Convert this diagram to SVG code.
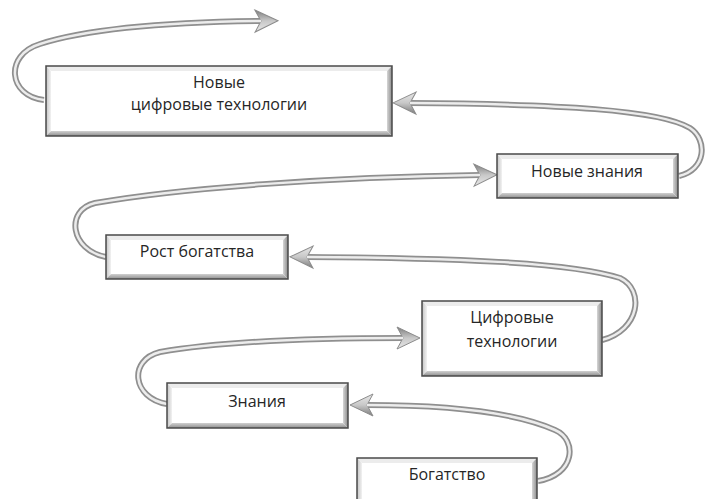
<svg xmlns="http://www.w3.org/2000/svg" width="705" height="499" viewBox="0 0 705 499">
<defs>
<linearGradient id="gl" x1="0" y1="0" x2="1" y2="0">
<stop offset="0" stop-color="#c4c4c4"/>
<stop offset="1" stop-color="#f2f2f2"/>
</linearGradient>
<linearGradient id="gr" x1="0" y1="0" x2="1" y2="0">
<stop offset="0" stop-color="#d6d6d6"/>
<stop offset="1" stop-color="#8a8a8a"/>
</linearGradient>
<linearGradient id="gb" x1="0" y1="0" x2="0" y2="1">
<stop offset="0" stop-color="#d0d0d0"/>
<stop offset="1" stop-color="#8e8e8e"/>
</linearGradient>
<linearGradient id="headg" x1="0" y1="0" x2="0" y2="1">
<stop offset="0" stop-color="#7d7d7d"/>
<stop offset="0.5" stop-color="#c8c8c8"/>
<stop offset="1" stop-color="#e8e8e8"/>
</linearGradient>
<marker id="ah" markerUnits="userSpaceOnUse" markerWidth="30" markerHeight="30" refX="0" refY="0" orient="auto" overflow="visible">
<path d="M17,0 L-6,-11 L0,0 L-6,11 Z" fill="url(#headg)" stroke="#8c8c8c" stroke-width="1" stroke-linejoin="miter"/>
</marker>
<style>
.face{fill:#ffffff}
.bt{fill:#ececec}
.bl{fill:url(#gl)}
.br{fill:url(#gr)}
.bb{fill:url(#gb)}
.edge{fill:none;stroke:#4a4a4a;stroke-width:1.5}
.lbl{font-family:"Open Sans","Noto Sans","Liberation Sans",sans-serif;font-size:16px;fill:#262626;text-anchor:middle}
.tube{fill:none;stroke:#8f8f8f;stroke-width:6;stroke-linecap:butt}
.core{fill:none;stroke:#ececec;stroke-width:2.5;stroke-linecap:butt}
</style>
</defs>
<g id="connectors">
<path class="tube" marker-end="url(#ah)" d="M44,100 C8,96 4,55 40,44 C90,28 180,22 261,21"/>
<path class="core" d="M44,100 C8,96 4,55 40,44 C90,28 180,22 261,21"/>
<path class="tube" marker-end="url(#ah)" d="M679,176 C706,170 708,140 690,128 C660,110 560,104 410,103"/>
<path class="core" d="M679,176 C706,170 708,140 690,128 C660,110 560,104 410,103"/>
<path class="tube" marker-end="url(#ah)" d="M106,257 C70,250 65,210 95,203 C180,188 330,177 480,175"/>
<path class="core" d="M106,257 C70,250 65,210 95,203 C180,188 330,177 480,175"/>
<path class="tube" marker-end="url(#ah)" d="M602,340 C640,330 645,290 620,278 C570,262 450,258 307,257"/>
<path class="core" d="M602,340 C640,330 645,290 620,278 C570,262 450,258 307,257"/>
<path class="tube" marker-end="url(#ah)" d="M167,404 C132,398 128,360 160,352 C230,340 320,338 403,338"/>
<path class="core" d="M167,404 C132,398 128,360 160,352 C230,340 320,338 403,338"/>
<path class="tube" marker-end="url(#ah)" d="M538,481 C575,475 578,440 555,430 C510,410 440,405 367,405"/>
<path class="core" d="M538,481 C575,475 578,440 555,430 C510,410 440,405 367,405"/>
</g>
<g id="n1">
<rect class="face" x="46" y="66" width="346" height="70"/>
<polygon class="bt" points="46,66 392,66 387,71 51,71"/>
<polygon class="bl" points="46,66 51,71 51,131 46,136"/>
<polygon class="br" points="392,66 392,136 387,131 387,71"/>
<polygon class="bb" points="46,136 51,131 387,131 392,136"/>
<rect class="edge" x="46" y="66" width="346" height="70"/>
<text class="lbl" x="219" y="88">Новые</text>
<text class="lbl" x="219" y="110">цифровые технологии</text>
</g>
<g id="n2">
<rect class="face" x="497" y="154" width="181" height="44"/>
<polygon class="bt" points="497,154 678,154 673,159 502,159"/>
<polygon class="bl" points="497,154 502,159 502,193 497,198"/>
<polygon class="br" points="678,154 678,198 673,193 673,159"/>
<polygon class="bb" points="497,198 502,193 673,193 678,198"/>
<rect class="edge" x="497" y="154" width="181" height="44"/>
<text class="lbl" x="587" y="177">Новые знания</text>
</g>
<g id="n3">
<rect class="face" x="106" y="235" width="182" height="44"/>
<polygon class="bt" points="106,235 288,235 283,240 111,240"/>
<polygon class="bl" points="106,235 111,240 111,274 106,279"/>
<polygon class="br" points="288,235 288,279 283,274 283,240"/>
<polygon class="bb" points="106,279 111,274 283,274 288,279"/>
<rect class="edge" x="106" y="235" width="182" height="44"/>
<text class="lbl" x="197" y="257">Рост богатства</text>
</g>
<g id="n4">
<rect class="face" x="422" y="301" width="180" height="75"/>
<polygon class="bt" points="422,301 602,301 597,306 427,306"/>
<polygon class="bl" points="422,301 427,306 427,371 422,376"/>
<polygon class="br" points="602,301 602,376 597,371 597,306"/>
<polygon class="bb" points="422,376 427,371 597,371 602,376"/>
<rect class="edge" x="422" y="301" width="180" height="75"/>
<text class="lbl" x="512" y="323">Цифровые</text>
<text class="lbl" x="512" y="347">технологии</text>
</g>
<g id="n5">
<rect class="face" x="167" y="383" width="181" height="45"/>
<polygon class="bt" points="167,383 348,383 343,388 172,388"/>
<polygon class="bl" points="167,383 172,388 172,423 167,428"/>
<polygon class="br" points="348,383 348,428 343,423 343,388"/>
<polygon class="bb" points="167,428 172,423 343,423 348,428"/>
<rect class="edge" x="167" y="383" width="181" height="45"/>
<text class="lbl" x="257" y="407">Знания</text>
</g>
<g id="n6">
<rect class="face" x="357" y="458" width="180" height="46"/>
<polygon class="bt" points="357,458 537,458 532,463 362,463"/>
<polygon class="bl" points="357,458 362,463 362,499 357,504"/>
<polygon class="br" points="537,458 537,504 532,499 532,463"/>
<polygon class="bb" points="357,504 362,499 532,499 537,504"/>
<rect class="edge" x="357" y="458" width="180" height="46"/>
<text class="lbl" x="447" y="480">Богатство</text>
</g>
</svg>
